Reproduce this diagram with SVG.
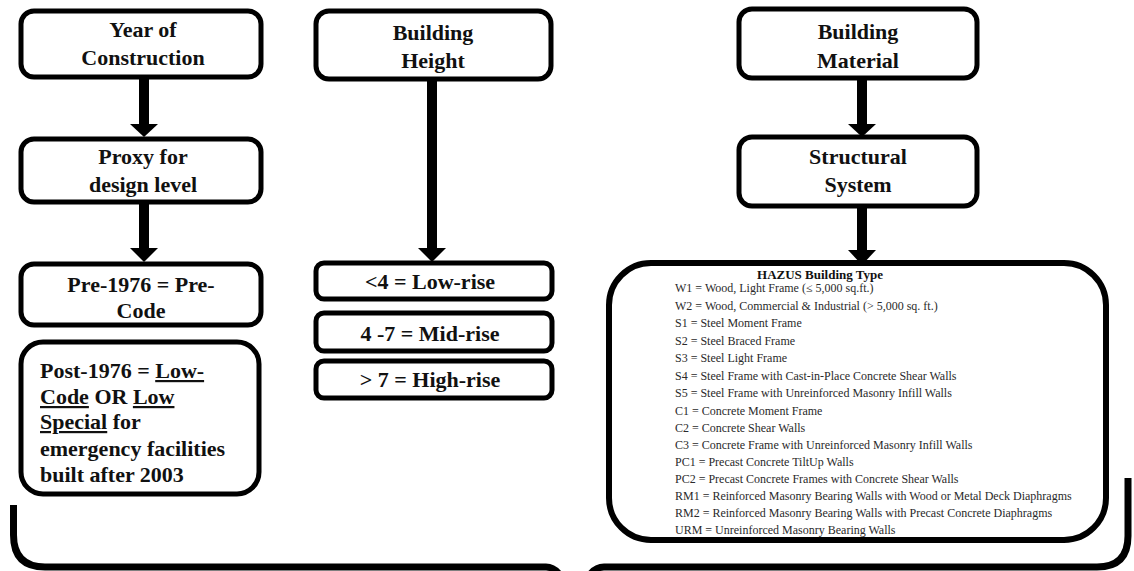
<svg xmlns="http://www.w3.org/2000/svg" width="1134" height="571" viewBox="0 0 1134 571">
<style>
.box{fill:#fff;stroke:#000;stroke-width:5}
.big{fill:#fff;stroke:#000;stroke-width:6}
.t{font-family:"Liberation Serif","Times New Roman",serif;font-weight:bold;font-size:22px;fill:#111}
.c{text-anchor:middle}
.h{font-family:"Liberation Serif","Times New Roman",serif;font-size:12px;fill:#2a2a2a}
.ht{font-family:"Liberation Serif","Times New Roman",serif;font-size:13px;font-weight:bold;fill:#111;text-anchor:middle}
.u{text-decoration:underline}
.shaft{stroke:#000;stroke-width:10}
.head{fill:#000}
.brace{fill:none;stroke:#000;stroke-width:7}
</style>
<rect width="1134" height="571" fill="#fff"/>
<g id="connectors">
  <line class="shaft" x1="144" y1="78" x2="144" y2="126"/>
  <polygon class="head" points="130,124 158,124 144,137"/>
  <line class="shaft" x1="144" y1="202" x2="144" y2="250"/>
  <polygon class="head" points="130,248 158,248 144,262"/>
  <line class="shaft" x1="432" y1="80" x2="432" y2="250"/>
  <polygon class="head" points="418,248 446,248 432,262"/>
  <line class="shaft" x1="862" y1="78" x2="862" y2="126"/>
  <polygon class="head" points="848,124 876,124 862,137"/>
  <line class="shaft" x1="862" y1="207" x2="862" y2="252"/>
  <polygon class="head" points="848,250 876,250 862,265"/>
  <path class="brace" d="M13.5,505 V535 Q13.5,567 45,567 H546 Q562,567 570,600"/>
  <path class="brace" d="M580,600 Q587,567 604,567 H1097 Q1128,567 1128,536 V478"/>
</g>
<g id="year">
  <rect class="box" x="21" y="11" width="240" height="66" rx="13"/>
  <text class="t c" x="143" y="37">Year of</text>
  <text class="t c" x="143" y="65">Construction</text>
</g>
<g id="proxy">
  <rect class="box" x="21" y="139" width="240" height="63" rx="13"/>
  <text class="t c" x="143" y="164">Proxy for</text>
  <text class="t c" x="143" y="192">design level</text>
</g>
<g id="precode">
  <rect class="box" x="21" y="264" width="240" height="61" rx="13"/>
  <text class="t c" x="141" y="292">Pre-1976 = Pre-</text>
  <text class="t c" x="141" y="318">Code</text>
</g>
<g id="postcode">
  <rect class="box" x="21" y="342" width="238" height="152" rx="22"/>
  <text class="t" x="40" y="378">Post-1976 = <tspan class="u">Low-</tspan></text>
  <text class="t" x="40" y="404"><tspan class="u">Code</tspan> OR <tspan class="u">Low</tspan></text>
  <text class="t" x="40" y="429"><tspan class="u">Special</tspan> for</text>
  <text class="t" x="40" y="456">emergency facilities</text>
  <text class="t" x="40" y="482">built after 2003</text>
</g>
<g id="height">
  <rect class="box" x="316" y="11" width="235" height="68" rx="13"/>
  <text class="t c" x="433" y="40">Building</text>
  <text class="t c" x="433" y="68">Height</text>
</g>
<g id="lowrise">
  <rect class="box" x="316" y="263" width="236" height="36" rx="8"/>
  <text class="t c" x="430" y="289">&lt;4 = Low-rise</text>
</g>
<g id="midrise">
  <rect class="box" x="316" y="313" width="236" height="38" rx="8"/>
  <text class="t c" x="430" y="341">4 -7 = Mid-rise</text>
</g>
<g id="highrise">
  <rect class="box" x="316" y="361" width="236" height="37" rx="8"/>
  <text class="t c" x="430" y="387">&gt; 7 = High-rise</text>
</g>
<g id="material">
  <rect class="box" x="739" y="9" width="238" height="69" rx="13"/>
  <text class="t c" x="858" y="39">Building</text>
  <text class="t c" x="858" y="68">Material</text>
</g>
<g id="structural">
  <rect class="box" x="739" y="137" width="238" height="69" rx="13"/>
  <text class="t c" x="858" y="164">Structural</text>
  <text class="t c" x="858" y="192">System</text>
</g>
<g id="hazus">
  <rect class="big" x="609" y="263" width="497" height="277" rx="42"/>
  <text class="ht" x="820" y="279">HAZUS Building Type</text>
  <text class="h" x="675" y="292">W1 = Wood, Light Frame (≤ 5,000 sq.ft.)</text>
  <text class="h" x="675" y="309.5">W2 = Wood, Commercial &amp; Industrial (&gt; 5,000 sq. ft.)</text>
  <text class="h" x="675" y="327">S1 = Steel Moment Frame</text>
  <text class="h" x="675" y="344.5">S2 = Steel Braced Frame</text>
  <text class="h" x="675" y="362">S3 = Steel Light Frame</text>
  <text class="h" x="675" y="379.5">S4 = Steel Frame with Cast-in-Place Concrete Shear Walls</text>
  <text class="h" x="675" y="397">S5 = Steel Frame with Unreinforced Masonry Infill Walls</text>
  <text class="h" x="675" y="414.5">C1 = Concrete Moment Frame</text>
  <text class="h" x="675" y="432">C2 = Concrete Shear Walls</text>
  <text class="h" x="675" y="449">C3 = Concrete Frame with Unreinforced Masonry Infill Walls</text>
  <text class="h" x="675" y="466">PC1 = Precast Concrete TiltUp Walls</text>
  <text class="h" x="675" y="483">PC2 = Precast Concrete Frames with Concrete Shear Walls</text>
  <text class="h" x="675" y="500">RM1 = Reinforced Masonry Bearing Walls with Wood or Metal Deck Diaphragms</text>
  <text class="h" x="675" y="517">RM2 = Reinforced Masonry Bearing Walls with Precast Concrete Diaphragms</text>
  <text class="h" x="675" y="534">URM = Unreinforced Masonry Bearing Walls</text>
</g>
</svg>
